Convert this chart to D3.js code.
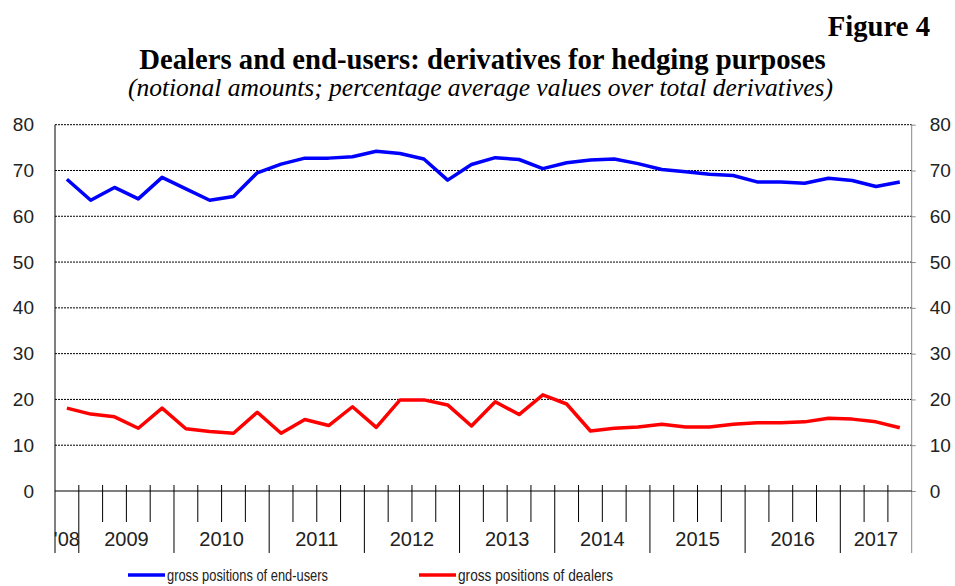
<!DOCTYPE html>
<html>
<head>
<meta charset="utf-8">
<script src="https://cdn.jsdelivr.net/npm/d3@7"></script>
<style>
  body { margin: 0; background: #fff; }
  svg { display: block; }
</style>
</head>
<body>
<svg id="chart" width="955" height="586"></svg>
<script>
// quarters from 2008 Q4 to 2017 Q3
const quarters = [
  "2008Q4",
  "2009Q1","2009Q2","2009Q3","2009Q4",
  "2010Q1","2010Q2","2010Q3","2010Q4",
  "2011Q1","2011Q2","2011Q3","2011Q4",
  "2012Q1","2012Q2","2012Q3","2012Q4",
  "2013Q1","2013Q2","2013Q3","2013Q4",
  "2014Q1","2014Q2","2014Q3","2014Q4",
  "2015Q1","2015Q2","2015Q3","2015Q4",
  "2016Q1","2016Q2","2016Q3","2016Q4",
  "2017Q1","2017Q2","2017Q3"
];
const years = ["2008","2009","2010","2011","2012","2013","2014","2015","2016","2017"];
const yearLabels = ["'08","2009","2010","2011","2012","2013","2014","2015","2016","2017"];

const endUsers = [
  68.1, 63.5, 66.3, 63.8, 68.5, 66.0, 63.5, 64.3, 69.5, 71.4, 72.7, 72.7,
  73.0, 74.2, 73.7, 72.5, 67.9, 71.3, 72.8, 72.4, 70.4, 71.7, 72.3, 72.5,
  71.5, 70.2, 69.7, 69.2, 68.9, 67.5, 67.5, 67.2, 68.3, 67.8, 66.5, 67.5
];
const dealers = [
  18.1, 16.8, 16.2, 13.7, 18.1, 13.6, 13.0, 12.6, 17.2, 12.6, 15.6, 14.3,
  18.4, 13.9, 19.9, 19.9, 18.8, 14.2, 19.5, 16.7, 21.0, 19.0, 13.1, 13.7,
  14.0, 14.6, 14.0, 14.0, 14.6, 14.9, 14.9, 15.1, 15.9, 15.7, 15.1, 13.8
];
const yTicks = [0, 10, 20, 30, 40, 50, 60, 70, 80];

const seriesList = [
  { name: "gross positions of end-users", values: endUsers, color: "#0000ff" },
  { name: "gross positions of dealers", values: dealers, color: "#ff0000" }
];

const svg = d3.select("#chart");
const plotLeft = 55, plotRight = 911.7, plotTop = 124.7, plotBottom = 491;

const x = d3.scaleBand().domain(quarters).range([plotLeft, plotRight]).padding(0);
const y = d3.scaleLinear().domain([0, 80]).range([plotBottom, plotTop]);

const serif = "'Liberation Serif', 'Times New Roman', serif";
const sans = "'Liberation Sans', Arial, sans-serif";

// Titles
svg.append("text")
  .attr("x", 930).attr("y", 36)
  .attr("text-anchor", "end")
  .style("font-family", serif)
  .style("font-weight", "bold")
  .style("font-size", "28.7px")
  .text("Figure 4");

svg.append("text")
  .attr("x", 482.5).attr("y", 68.5)
  .attr("text-anchor", "middle")
  .style("font-family", serif)
  .style("font-weight", "bold")
  .style("font-size", "28.7px")
  .text("Dealers and end-users: derivatives for hedging purposes");

svg.append("text")
  .attr("x", 480.5).attr("y", 96)
  .attr("text-anchor", "middle")
  .style("font-family", serif)
  .style("font-style", "italic")
  .style("font-size", "25.5px")
  .text("(notional amounts; percentage average values over total derivatives)");

// Grid lines (dashed)
svg.append("g")
  .selectAll("line")
  .data(yTicks.filter(d => d > 0))
  .join("line")
  .attr("x1", plotLeft).attr("x2", plotRight)
  .attr("y1", d => y(d)).attr("y2", d => y(d))
  .attr("stroke", "#000")
  .attr("stroke-width", 1)
  .attr("stroke-dasharray", "2,1");

// Left axis
const leftAxis = svg.append("g")
  .attr("transform", `translate(${plotLeft},0)`)
  .call(d3.axisLeft(y).tickValues(yTicks).tickSize(0).tickPadding(21));
leftAxis.select(".domain").remove();
leftAxis.selectAll("text")
  .style("font-family", sans)
  .style("font-size", "19px")
  .attr("fill", "#222");

// Right axis
const rightAxis = svg.append("g")
  .attr("transform", `translate(${plotRight},0)`)
  .call(d3.axisRight(y).tickValues(yTicks).tickSize(4).tickPadding(14));
rightAxis.select(".domain").remove();
rightAxis.selectAll("line").attr("stroke", "#888");
rightAxis.selectAll("text")
  .style("font-family", sans)
  .style("font-size", "19px")
  .attr("fill", "#222");

svg.append("line")
  .attr("x1", plotLeft).attr("x2", plotLeft)
  .attr("y1", plotTop).attr("y2", 553)
  .attr("stroke", "#000").attr("stroke-width", 1);
svg.append("line")
  .attr("x1", plotRight).attr("x2", plotRight)
  .attr("y1", plotTop).attr("y2", 553)
  .attr("stroke", "#888").attr("stroke-width", 1);

// X axis line
svg.append("line")
  .attr("x1", plotLeft).attr("x2", plotRight)
  .attr("y1", plotBottom).attr("y2", plotBottom)
  .attr("stroke", "#000").attr("stroke-width", 1.2);

// Quarter ticks: long at year boundaries, short otherwise
const tickData = quarters.slice(1).map(q => ({ x: x(q), long: q.endsWith("Q1") }));
svg.append("g")
  .selectAll("line")
  .data(tickData)
  .join("line")
  .attr("x1", d => d.x).attr("x2", d => d.x)
  .attr("y1", 485)
  .attr("y2", d => d.long ? 553 : 522)
  .attr("stroke", "#000")
  .attr("stroke-width", 1);

// Year labels centred under their quarters
svg.append("g")
  .selectAll("text")
  .data(years)
  .join("text")
  .attr("x", yr => {
    const qs = quarters.filter(q => q.startsWith(yr));
    const x0 = x(qs[0]);
    const x1 = x(qs[qs.length - 1]) + x.bandwidth();
    return (x0 + x1) / 2;
  })
  .attr("y", 546)
  .attr("text-anchor", "middle")
  .style("font-family", sans)
  .style("font-size", "20px")
  .attr("fill", "#222")
  .text((yr, i) => yearLabels[i]);

// Lines
const line = d3.line()
  .x((d, i) => x(quarters[i]) + x.bandwidth() / 2)
  .y(d => y(d));

seriesList.forEach(s => {
  svg.append("path")
    .datum(s.values)
    .attr("fill", "none")
    .attr("stroke", s.color)
    .attr("stroke-width", 3.5)
    .attr("stroke-linejoin", "round")
    .attr("d", line);
});

// Legend
const legendPos = [
  { x1: 128, x2: 165, tx: 167, w: 161 },
  { x1: 419, x2: 456, tx: 458, w: 155 }
];
seriesList.forEach((s, i) => {
  const p = legendPos[i];
  svg.append("line")
    .attr("x1", p.x1).attr("x2", p.x2)
    .attr("y1", 575).attr("y2", 575)
    .attr("stroke", s.color)
    .attr("stroke-width", 3.5);
  svg.append("text")
    .attr("x", p.tx).attr("y", 581)
    .attr("textLength", p.w)
    .attr("lengthAdjust", "spacingAndGlyphs")
    .style("font-family", "'Liberation Sans Narrow', 'Arial Narrow', 'Liberation Sans', sans-serif")
    .style("font-size", "17px")
    .attr("fill", "#222")
    .text(s.name);
});
</script>
</body>
</html>
